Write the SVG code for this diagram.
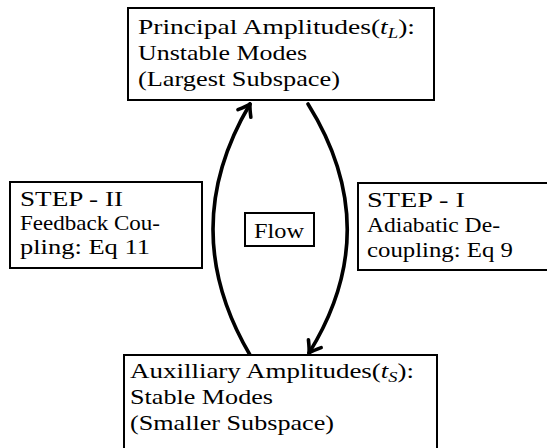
<svg xmlns="http://www.w3.org/2000/svg" width="547" height="448" viewBox="0 0 547 448">
<style>
.box{fill:#fff;stroke:#000;stroke-width:2}
.t{font-family:"Liberation Serif","Times New Roman",serif;font-size:22px;fill:#000}
.m{font-style:italic}
.conn{fill:none;stroke:#000;stroke-width:3.6;stroke-linecap:round}
</style>
<defs>
<marker id="arr" markerUnits="userSpaceOnUse" markerWidth="30" markerHeight="30" refX="0" refY="0" viewBox="-15 -15 30 30" orient="auto" overflow="visible">
<path d="M-11,-7.5 Q-4,-2 0,0 Q-4,2 -11,7.5" fill="none" stroke="#000" stroke-width="3.6" stroke-linecap="round" stroke-linejoin="round"/>
</marker>
</defs>
<rect width="547" height="448" fill="#fff"/>
<g id="connectors">
<path class="conn" d="M250,355 Q176,229 250,104" marker-end="url(#arr)"/>
<path class="conn" d="M308,104 Q386,229 309,353" marker-end="url(#arr)"/>
</g>
<g id="principal">
<rect class="box" x="128" y="8" width="306" height="92"/>
<text class="t" x="138" y="34" textLength="277" lengthAdjust="spacingAndGlyphs">Principal Amplitudes(<tspan class="m">t</tspan><tspan class="m" font-size="15" dy="4">L</tspan><tspan dy="-4">):</tspan></text>
<text class="t" x="138" y="60" textLength="169" lengthAdjust="spacingAndGlyphs">Unstable Modes</text>
<text class="t" x="138" y="86" textLength="202" lengthAdjust="spacingAndGlyphs">(Largest Subspace)</text>
</g>
<g id="auxiliary">
<rect class="box" x="124" y="355" width="313" height="100"/>
<text class="t" x="130" y="378" textLength="284" lengthAdjust="spacingAndGlyphs">Auxilliary Amplitudes(<tspan class="m">t</tspan><tspan class="m" font-size="15" dy="4">S</tspan><tspan dy="-4">):</tspan></text>
<text class="t" x="130" y="404" textLength="143" lengthAdjust="spacingAndGlyphs">Stable Modes</text>
<text class="t" x="130" y="430" textLength="204" lengthAdjust="spacingAndGlyphs">(Smaller Subspace)</text>
</g>
<g id="step2">
<rect class="box" x="10" y="182" width="192" height="86"/>
<text class="t" x="20" y="206" textLength="103" lengthAdjust="spacingAndGlyphs">STEP - II</text>
<text class="t" x="20" y="230" textLength="140" lengthAdjust="spacingAndGlyphs">Feedback Cou-</text>
<text class="t" x="20" y="254" textLength="130" lengthAdjust="spacingAndGlyphs">pling:  Eq 11</text>
</g>
<g id="step1">
<rect class="box" x="358" y="183" width="200" height="87"/>
<text class="t" x="367" y="207" textLength="98" lengthAdjust="spacingAndGlyphs">STEP - I</text>
<text class="t" x="367" y="232" textLength="133" lengthAdjust="spacingAndGlyphs">Adiabatic De-</text>
<text class="t" x="367" y="257" textLength="146" lengthAdjust="spacingAndGlyphs">coupling:  Eq 9</text>
</g>
<g id="flow">
<rect class="box" x="245" y="213" width="69" height="33"/>
<text class="t" x="254" y="238" textLength="50" lengthAdjust="spacingAndGlyphs">Flow</text>
</g>
</svg>
